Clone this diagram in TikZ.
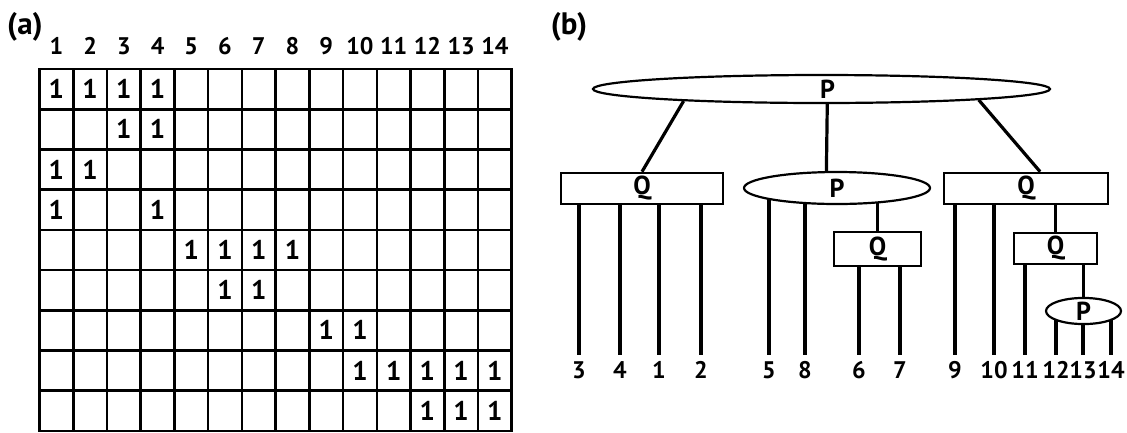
\documentclass[tikz,border=0pt]{standalone}
\usepackage{fontspec}
\setmainfont{PT Sans}
\usetikzlibrary{shapes.geometric,backgrounds}
\begin{document}
\begin{tikzpicture}[x=1pt,y=-1pt,
  gridline/.style={line width=2.6pt},
  markc/.style={font=\bfseries\fontsize{27}{31}\selectfont, inner sep=0pt},
  hdr/.style={font=\bfseries\fontsize{24}{28}\selectfont, inner sep=0pt, anchor=base},
  leaflbl/.style={font=\bfseries\fontsize{24}{28}\selectfont, inner sep=0pt, anchor=base, text height=16.8pt, text depth=0pt},
  panel/.style={font=\bfseries\fontsize{31}{35}\selectfont, inner sep=0pt},
  pnode/.style={ellipse, draw, line width=2.2pt, fill=white, inner sep=0pt, font=\bfseries\fontsize{26}{30}\selectfont},
  qnode/.style={rectangle, draw, line width=2.6pt, fill=white, inner sep=0pt, font=\bfseries\fontsize{26}{30}\selectfont},
  edge/.style={line width=3.2pt},
  leaf/.style={line width=3.4pt, shorten >=6pt}
]
\useasboundingbox (0,0) rectangle (1127,432);

% ---------- panel (a) ----------
\node[panel] (la) at (25,27) {(a)};
\foreach \c in {1,...,14}
  \node[hdr] (h-\c) at ({39.5+33.73*(\c-0.5)}, 54) {\c};
\draw[gridline] (39.5,69) rectangle (511.7,430.8);
\foreach \i in {1,...,13}
  \draw[gridline] ({39.5+33.73*\i},69) -- ({39.5+33.73*\i},430.8);
\foreach \j in {1,...,8}
  \draw[gridline] (39.5,{69+40.2*\j}) -- (511.7,{69+40.2*\j});
\foreach \r/\cs in {1/{1,2,3,4}, 2/{3,4}, 3/{1,2}, 4/{1,4}, 5/{5,6,7,8}, 6/{6,7}, 7/{9,10}, 8/{10,11,12,13,14}, 9/{12,13,14}}
  \foreach \c in \cs
    \node[markc] (m-\r-\c) at ({39.5+33.73*(\c-0.5)}, {69+40.2*(\r-0.5)}) {1};

% ---------- panel (b) ----------
\node[panel] (lb) at (569,27) {(b)};
\node[pnode, minimum width=457pt, minimum height=28pt] (p1) at (821.5,89) {\hspace*{12pt}P};
\node[qnode, minimum width=162pt, minimum height=31pt] (q1) at (642,188.5) {Q};
\node[pnode, minimum width=186pt, minimum height=32pt] (p2) at (837,188) {P};
\node[qnode, minimum width=164pt, minimum height=31pt] (q3) at (1026,188.5) {Q};
\node[qnode, minimum width=87pt, minimum height=34pt] (q2) at (877.5,249) {Q};
\node[qnode, minimum width=83pt, minimum height=31pt] (q4) at (1055.5,248.5) {Q};
\node[pnode, minimum width=75pt, minimum height=26pt] (p3) at (1083.5,311) {P};

\foreach \n/\x in {3/579,4/620,1/659,2/701,5/769,8/805,6/859,7/900,9/955,10/994,11/1025,12/1056,13/1083,14/1111}
  \node[leaflbl] (l\n) at (\x,378) {\n};

\begin{scope}[on background layer]
  \draw[edge] (p1.185) -- (q1.north);
  \draw[edge] (p1.291) -- (p2.122);
  \draw[edge] (p1.356.1) -- (q3.50);
  \foreach \n in {3,4,1,2}
    \draw[leaf] (q1.center -| l\n.north) -- (l\n.north);
  \foreach \n in {5,8}
    \draw[leaf] (p2.center -| l\n.north) -- (l\n.north);
  \draw[leaf, shorten >=0pt] (p2.center -| q2.north) -- (q2.north);
  \foreach \n in {6,7}
    \draw[leaf] (q2.center -| l\n.north) -- (l\n.north);
  \foreach \n in {9,10}
    \draw[leaf] (q3.center -| l\n.north) -- (l\n.north);
  \draw[leaf, shorten >=0pt] (q3.center -| q4.north) -- (q4.north);
  \draw[leaf] (q4.center -| l11.north) -- (l11.north);
  \draw[leaf, shorten >=0pt] (q4.center -| p3.north) -- (p3.north);
  \foreach \n in {12,13,14}
    \draw[leaf] (p3.center -| l\n.north) -- (l\n.north);
\end{scope}
\end{tikzpicture}
\end{document}
